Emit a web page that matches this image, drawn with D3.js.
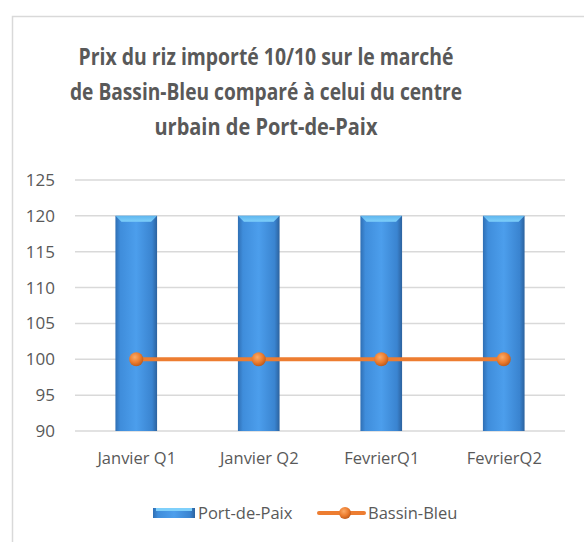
<!DOCTYPE html>
<html>
<head>
<meta charset="utf-8">
<script src="https://cdn.jsdelivr.net/npm/d3@7"></script>
<style>
  body { margin: 0; background: #fff; }
  svg text { font-family: "Open Sans", "Liberation Sans", sans-serif; fill: #595959; }
</style>
</head>
<body>
<svg id="chart" width="584" height="542"></svg>
<script>
var categories = ['Janvier Q1', 'Janvier Q2', 'FevrierQ1', 'FevrierQ2'];
var portDePaix = [120, 120, 120, 120];
var bassinBleu = [100, 100, 100, 100];
var yTicks = [90, 95, 100, 105, 110, 115, 120, 125];
var titleLines = ['Prix du riz importé 10/10 sur le marché',
                  'de Bassin-Bleu comparé à celui du centre',
                  'urbain de Port-de-Paix'];
var titleWidths = [375, 392, 223];

var svg = d3.select('#chart'),
    margin = { top: 180, right: 19, bottom: 111, left: 75 },
    width = 584 - margin.left - margin.right,
    height = 542 - margin.top - margin.bottom;

var defs = svg.append('defs');

var barGrad = defs.append('linearGradient').attr('id', 'barGrad')
    .attr('x1', 0).attr('x2', 1).attr('y1', 0).attr('y2', 0);
barGrad.append('stop').attr('offset', '0%').attr('stop-color', '#2f6fb4');
barGrad.append('stop').attr('offset', '12%').attr('stop-color', '#3f8ddb');
barGrad.append('stop').attr('offset', '50%').attr('stop-color', '#4c9eec');
barGrad.append('stop').attr('offset', '88%').attr('stop-color', '#3a84d0');
barGrad.append('stop').attr('offset', '100%').attr('stop-color', '#2c629e');

var capGrad = defs.append('linearGradient').attr('id', 'capGrad')
    .attr('x1', 0).attr('x2', 0).attr('y1', 0).attr('y2', 1);
capGrad.append('stop').attr('offset', '0%').attr('stop-color', '#5fb6ee');
capGrad.append('stop').attr('offset', '100%').attr('stop-color', '#7fd0fb');

var dotGrad = defs.append('radialGradient').attr('id', 'dotGrad')
    .attr('cx', '40%').attr('cy', '35%').attr('r', '65%');
dotGrad.append('stop').attr('offset', '0%').attr('stop-color', '#fbab68');
dotGrad.append('stop').attr('offset', '60%').attr('stop-color', '#ec7c2e');
dotGrad.append('stop').attr('offset', '100%').attr('stop-color', '#c05c1c');

// chart border
svg.append('rect')
    .attr('x', 12.5).attr('y', 16.5)
    .attr('width', 600).attr('height', 560)
    .attr('fill', 'none').attr('stroke', '#d9d9d9').attr('stroke-width', 1.5);

// title
svg.append('g').selectAll('text').data(titleLines).enter().append('text')
    .attr('x', 266)
    .attr('y', function(d, i) { return 65 + i * 35; })
    .attr('text-anchor', 'middle')
    .attr('textLength', function(d, i) { return titleWidths[i]; })
    .attr('lengthAdjust', 'spacingAndGlyphs')
    .style('font-size', '24px').style('font-weight', 'bold')
    .text(function(d) { return d; });

var g = svg.append('g').attr('transform', 'translate(' + margin.left + ',' + margin.top + ')');

var x = d3.scaleBand().domain(categories).range([0, width]).paddingInner(0.66).paddingOuter(0.33);
var xc = d3.scalePoint().domain(categories).range([0, width]).padding(0.5);
var y = d3.scaleLinear().domain([90, 125]).range([height, 0]);

// gridlines
g.selectAll('line.grid').data(yTicks).enter().append('line')
    .attr('class', 'grid')
    .attr('x1', 0).attr('x2', width)
    .attr('y1', function(d) { return y(d); }).attr('y2', function(d) { return y(d); })
    .attr('stroke', '#d9d9d9').attr('stroke-width', 1.5);

// y axis labels
var yAxis = d3.axisLeft(y).tickValues(yTicks).tickSize(0).tickPadding(20);
g.append('g').call(yAxis)
    .call(function(s) { s.select('.domain').remove(); })
    .selectAll('text').style('font-size', '17px').attr('fill', '#595959');

// x axis labels
var xAxis = d3.axisBottom(xc).tickSize(0).tickPadding(21);
g.append('g').attr('transform', 'translate(0,' + height + ')').call(xAxis)
    .call(function(s) { s.select('.domain').remove(); })
    .selectAll('text').style('font-size', '16.5px').attr('fill', '#595959');

// bars
var bars = g.selectAll('g.bar').data(portDePaix).enter().append('g').attr('class', 'bar');
bars.append('rect')
    .attr('x', function(d, i) { return x(categories[i]); })
    .attr('y', function(d) { return y(d); })
    .attr('width', x.bandwidth())
    .attr('height', function(d) { return height - y(d); })
    .attr('fill', 'url(#barGrad)');
bars.append('path')
    .attr('d', function(d, i) {
        var x0 = x(categories[i]), x1 = x0 + x.bandwidth(), y0 = y(d), b = 6;
        return 'M' + x0 + ',' + y0 + 'L' + x1 + ',' + y0 + 'L' + (x1 - b) + ',' + (y0 + b) +
               'L' + (x0 + b) + ',' + (y0 + b) + 'Z';
    })
    .attr('fill', 'url(#capGrad)');

// line
var line = d3.line()
    .x(function(d, i) { return xc(categories[i]); })
    .y(function(d) { return y(d); });
g.append('path').datum(bassinBleu)
    .attr('d', line)
    .attr('fill', 'none').attr('stroke', '#ed7d31').attr('stroke-width', 4);
g.selectAll('circle.dot').data(bassinBleu).enter().append('circle')
    .attr('class', 'dot')
    .attr('cx', function(d, i) { return xc(categories[i]); })
    .attr('cy', function(d) { return y(d); })
    .attr('r', 7)
    .attr('fill', 'url(#dotGrad)');

// legend
var lg = svg.append('g').attr('transform', 'translate(0,513)');
lg.append('rect').attr('x', 153).attr('y', -5).attr('width', 42).attr('height', 10)
    .attr('fill', 'url(#barGrad)');
lg.append('rect').attr('x', 156).attr('y', -5).attr('width', 36).attr('height', 3)
    .attr('fill', '#7fd0fb');
lg.append('text').attr('x', 198).attr('y', 0).attr('dy', '0.35em')
    .style('font-size', '16.5px').text('Port-de-Paix');
lg.append('line').attr('x1', 319).attr('x2', 364).attr('y1', 0).attr('y2', 0)
    .attr('stroke', '#ed7d31').attr('stroke-width', 4).attr('stroke-linecap', 'round');
lg.append('circle').attr('cx', 345).attr('cy', 0).attr('r', 6).attr('fill', 'url(#dotGrad)');
lg.append('text').attr('x', 368).attr('y', 0).attr('dy', '0.35em')
    .style('font-size', '16.5px').text('Bassin-Bleu');
</script>
</body>
</html>
